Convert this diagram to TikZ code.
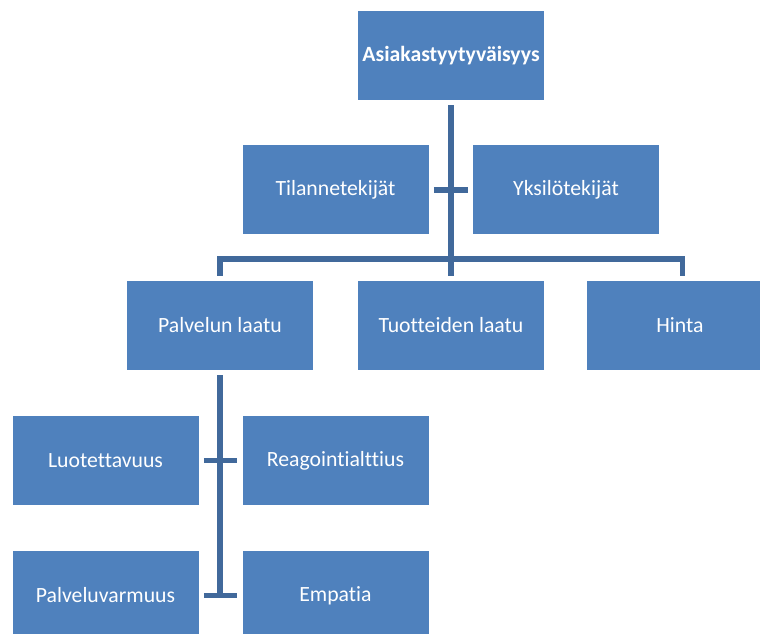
\documentclass[tikz,border=0pt]{standalone}
\usepackage{fontspec}
\setmainfont{Carlito}[Ligatures=NoCommon]
\usepackage{tikz}
\usetikzlibrary{positioning,calc}
\definecolor{boxblue}{RGB}{79,129,189}
\definecolor{lineblue}{RGB}{65,105,155}

\begin{document}
\begin{tikzpicture}[x=0.75pt, y=-0.75pt,
    box/.style={fill=boxblue, text=white, minimum width=139.5pt, minimum height=66.75pt,
        inner sep=0pt, outer sep=0pt, font=\fontsize{16.3}{19}\selectfont},
    conn/.style={draw=lineblue, line width=4pt}]
    \useasboundingbox (0,0) rectangle (760,634);
    \clip (0,0) rectangle (760,634);

    % Top level
    \node[box, font=\fontsize{16.3}{19}\selectfont\bfseries] (asiakas) at (451, 55.5) {Asiakastyytyväisyys};
    \node[box] (tilanne) at (335.5, 190) {Tilannetekijät};
    \node[box] (yksilo) at (566, 190) {Yksilötekijät};

    % Second level
    \node[box] (palvelu) at (220, 325.5) {Palvelun laatu};
    \node[box] (tuote) at (451, 325.5) {Tuotteiden laatu};
    \node[box] (hinta) at (680, 325.5) {Hinta};

    % Service quality dimensions
    \node[box] (luot) at (105.5, 460.5) {Luotettavuus};
    \node[box] (reag) at (335.5, 460.5) {Reagointialttius};
    \node[box] (varm) at (105.5, 595.5) {Palveluvarmuus};
    \node[box] (empatia) at (335.5, 595.5) {Empatia};

    % Trunk and branches
    \coordinate (bar) at (451, 259);
    \draw[conn] ([yshift=-4pt]asiakas.south) -- ([yshift=4pt]tuote.north);
    \draw[conn] ([xshift=4pt]tilanne.east) -- ([xshift=-4pt]yksilo.west);
    \draw[conn] ([yshift=4pt]palvelu.north) |- (bar) -| ([xshift=2pt, yshift=4pt]hinta.north);

    % Sub-tree of service quality
    \draw[conn] ([yshift=-4pt]palvelu.south) -- (palvelu.south |- varm);
    \draw[conn] ([xshift=4pt]luot.east) -- ([xshift=-4pt]reag.west);
    \draw[conn] ([xshift=4pt]varm.east) -- ([xshift=-4pt]empatia.west);
\end{tikzpicture}
\end{document}
